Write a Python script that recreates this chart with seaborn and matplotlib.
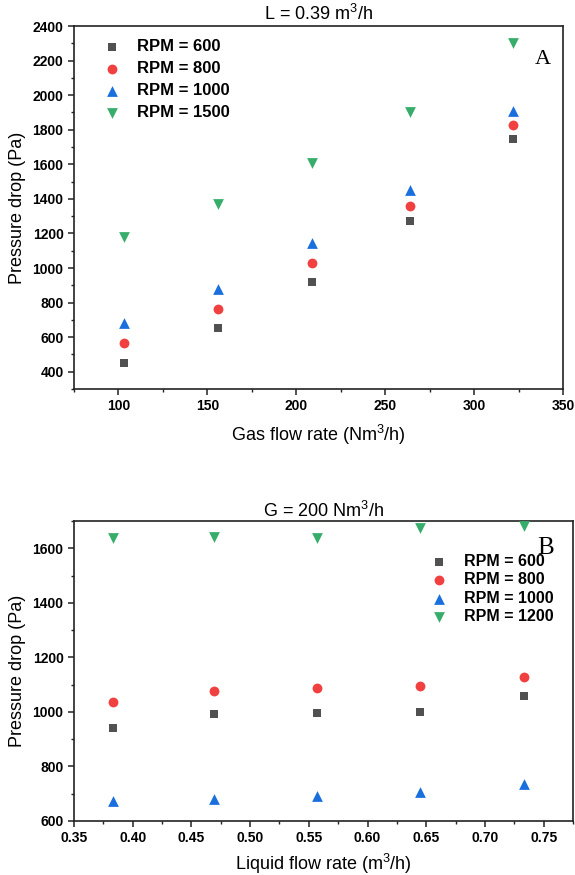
import numpy as np
import pandas as pd
import matplotlib
matplotlib.use("Agg")
import matplotlib.pyplot as plt
import seaborn as sns

# ---------------- data ----------------
gas_flow = [103, 156, 209, 264, 322]
top_rpm600 = [452, 651, 919, 1274, 1748]
top_rpm800 = [564, 763, 1031, 1360, 1825]
top_rpm1000 = [683, 880, 1146, 1449, 1906]
top_rpm1500 = [1181, 1370, 1605, 1902, 2300]
top_labels = ["RPM = 600", "RPM = 800", "RPM = 1000", "RPM = 1500"]

liquid_flow = [0.383, 0.469, 0.557, 0.645, 0.733]
bot_rpm600 = [942, 994, 997, 1001, 1060]
bot_rpm800 = [1035, 1075, 1086, 1094, 1129]
bot_rpm1000 = [673, 679, 691, 705, 735]
bot_rpm1200 = [1637, 1643, 1639, 1675, 1680]
bot_labels = ["RPM = 600", "RPM = 800", "RPM = 1000", "RPM = 1200"]

colors = ["#515151", "#F14040", "#1A6FDF", "#37AD6B"]
markers = ["s", "o", "^", "v"]
sizes = [30, 50, 60, 60]

sns.set_theme(style="ticks")
plt.rcParams["font.family"] = ["Liberation Sans", "DejaVu Sans"]
plt.rcParams["mathtext.fontset"] = "custom"
plt.rcParams["mathtext.rm"] = "Liberation Sans"
plt.rcParams["mathtext.it"] = "Liberation Sans:italic"
plt.rcParams["mathtext.bf"] = "Liberation Sans:bold"
for k in ["text.color", "axes.labelcolor", "xtick.color", "ytick.color",
          "axes.edgecolor", "xtick.labelcolor", "ytick.labelcolor"]:
    plt.rcParams[k] = "black"


def long_df(x, series, labels):
    rows = []
    for vals, lab in zip(series, labels):
        for xi, yi in zip(x, vals):
            rows.append({"x": xi, "y": yi, "group": lab})
    return pd.DataFrame(rows)


fig = plt.figure(figsize=(5.75, 8.75), dpi=100)
ax1 = fig.add_axes([74 / 575, 1 - 389 / 875, 489 / 575, 363 / 875])
ax2 = fig.add_axes([74 / 575, 1 - 821 / 875, 499 / 575, 300 / 875])


def draw(ax, x, series, labels):
    df = long_df(x, series, labels)
    for lab, col, mk, sz in zip(labels, colors, markers, sizes):
        sub = df[df["group"] == lab]
        sns.scatterplot(data=sub, x="x", y="y", ax=ax, color=col, marker=mk,
                        s=sz, linewidth=0, label=lab, legend=True, zorder=3,
                        clip_on=True)


def style(ax):
    for sp in ax.spines.values():
        sp.set_linewidth(1.2)
        sp.set_color("#222222")
        sp.set_visible(True)
    ax.tick_params(which="major", direction="out", length=4, width=1.1,
                   color="#222222", pad=3.5, labelsize=10)
    ax.tick_params(which="minor", direction="out", length=2.5, width=1.0,
                   color="#222222")
    ax.tick_params(top=False, right=False, which="both")
    ax.grid(False)


# ---------------- panel A ----------------
draw(ax1, gas_flow, [top_rpm600, top_rpm800, top_rpm1000, top_rpm1500], top_labels)
ax1.set_xlim(75, 350)
ax1.set_ylim(300, 2400)
ax1.set_xticks([100, 150, 200, 250, 300, 350])
ax1.set_yticks(np.arange(400, 2401, 200))
ax1.xaxis.set_minor_locator(matplotlib.ticker.MultipleLocator(25))
ax1.yaxis.set_minor_locator(matplotlib.ticker.MultipleLocator(100))
style(ax1)
ax1.set_xlabel("Gas flow rate (Nm$^3$/h)", fontsize=13)
ax1.set_ylabel("Pressure drop (Pa)", fontsize=13)
ax1.xaxis.set_label_coords(0.5 - 0.0, -0.094)
ax1.yaxis.set_label_coords(-0.098, 0.5)
ax1.set_title("L = 0.39 m$^3$/h", fontsize=13, pad=4.5)
h, l = ax1.get_legend_handles_labels()
ax1.legend(h, l, loc="upper left", bbox_to_anchor=(0.044, 0.987), frameon=False,
           borderpad=0, handlelength=1.0, handletextpad=1.0, labelspacing=0.42,
           prop={"weight": "bold", "size": 12})
ax1.text(0.959, 0.909, "A", transform=ax1.transAxes, ha="center", va="center",
         fontsize=16, family=["Liberation Serif", "DejaVu Serif"])

# ---------------- panel B ----------------
draw(ax2, liquid_flow, [bot_rpm600, bot_rpm800, bot_rpm1000, bot_rpm1200], bot_labels)
ax2.set_xlim(0.35, 0.775)
ax2.set_ylim(600, 1700)
ax2.set_xticks(np.round(np.arange(0.35, 0.751, 0.05), 2))
ax2.xaxis.set_major_formatter(matplotlib.ticker.FormatStrFormatter("%.2f"))
ax2.set_yticks([600, 800, 1000, 1200, 1400, 1600])
ax2.xaxis.set_minor_locator(matplotlib.ticker.MultipleLocator(0.025))
ax2.yaxis.set_minor_locator(matplotlib.ticker.MultipleLocator(100))
style(ax2)
ax2.set_xlabel("Liquid flow rate (m$^3$/h)", fontsize=13)
ax2.set_ylabel("Pressure drop (Pa)", fontsize=13)
ax2.xaxis.set_label_coords(0.5, -0.103)
ax2.yaxis.set_label_coords(-0.096, 0.5)
ax2.set_title("G = 200 Nm$^3$/h", fontsize=13, pad=2.5)
h, l = ax2.get_legend_handles_labels()
ax2.legend(h, l, loc="upper left", bbox_to_anchor=(0.699, 0.917), frameon=False,
           borderpad=0, handlelength=1.0, handletextpad=1.08, labelspacing=0.22,
           prop={"weight": "bold", "size": 11.5})
ax2.text(0.946, 0.91, "B", transform=ax2.transAxes, ha="center", va="center",
         fontsize=18, family=["Liberation Serif", "DejaVu Serif"])

fig.canvas.draw()
for ax in (ax1, ax2):
    plt.setp(ax.get_xticklabels() + ax.get_yticklabels(), fontweight="bold")

fig.savefig("out.png", dpi=100)
